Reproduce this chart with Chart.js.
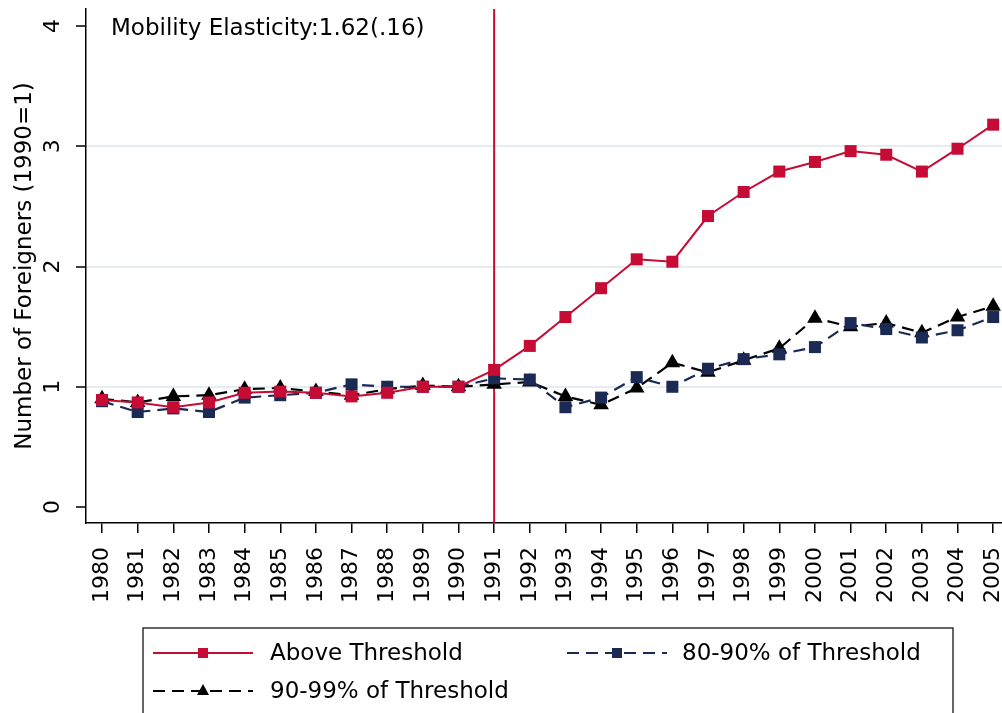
<!DOCTYPE html>
<html>
<head>
<meta charset="utf-8">
<script src="https://cdn.jsdelivr.net/npm/chart.js@4.4.0/dist/chart.umd.min.js"></script>
<style>
body{margin:0;overflow:hidden;background:#fff}
#wrap{width:1002px;height:713px;overflow:hidden}
</style>
</head>
<body>
<div id="wrap"><canvas id="myChart" width="1020" height="713"></canvas></div>
<script>
// DATA
const years = [1980,1981,1982,1983,1984,1985,1986,1987,1988,1989,1990,1991,1992,
  1993,1994,1995,1996,1997,1998,1999,2000,2001,2002,2003,2004,2005];
const above = [0.89,0.87,0.83,0.87,0.95,0.96,0.95,0.92,0.95,1.0,1.0,1.14,1.34,
  1.58,1.82,2.06,2.04,2.42,2.62,2.79,2.87,2.96,2.93,2.79,2.98,3.18];
const pct8090 = [0.88,0.79,0.82,0.79,0.91,0.93,0.95,1.02,1.0,1.0,1.0,1.07,1.06,
  0.83,0.91,1.08,1.0,1.15,1.23,1.27,1.33,1.53,1.48,1.41,1.47,1.58];
const pct9099 = [0.9,0.87,0.92,0.93,0.98,0.99,0.96,0.93,0.98,1.01,1.0,1.02,1.04,
  0.92,0.85,0.99,1.2,1.12,1.22,1.32,1.57,1.5,1.53,1.45,1.58,1.67];
const yTicks = [0,1,2,3,4];
const gridAt = [1,2,3];
const reformYear = 1991;
const seriesNames = ['Above Threshold','80-90% of Threshold','90-99% of Threshold'];
const note = 'Mobility Elasticity:1.62(.16)';
const yTitle = 'Number of Foreigners (1990=1)';

const RED = '#c60b35', NAVY = '#1b2a55', BLACK = '#000';
Chart.defaults.font.family = '"DejaVu Sans", sans-serif';
Chart.defaults.color = '#000';

function pts(vals){ return years.map((x,i) => ({x: x, y: vals[i]})); }

//SETUP
const data = {
  datasets: [{
    label: seriesNames[0], data: pts(above),
    borderColor: RED, backgroundColor: RED, borderWidth: 2,
    pointStyle: 'rect', pointRadius: 8.5, pointBorderWidth: 0,
    pointBackgroundColor: RED
  },{
    label: seriesNames[1], data: pts(pct8090),
    borderColor: NAVY, backgroundColor: NAVY, borderWidth: 2.2, borderDash: [12,7],
    pointStyle: 'rect', pointRadius: 8.5, pointBorderWidth: 0,
    pointBackgroundColor: NAVY
  },{
    label: seriesNames[2], data: pts(pct9099),
    borderColor: BLACK, backgroundColor: BLACK, borderWidth: 2.2, borderDash: [12,7],
    pointStyle: 'triangle', pointRadius: 9, pointBorderWidth: 0,
    pointBackgroundColor: BLACK
  }]
};

// red reform line, note, rotated y labels, legend
const extras = {
  id: 'extras',
  beforeDatasetsDraw(chart){
    const c = chart.ctx, a = chart.chartArea;
    const x = chart.scales.x.getPixelForValue(reformYear);
    c.save();
    c.strokeStyle = RED; c.lineWidth = 2;
    c.beginPath(); c.moveTo(x, a.top); c.lineTo(x, a.bottom); c.stroke();
    c.restore();
  },
  afterDraw(chart){
    const c = chart.ctx, ys = chart.scales.y, a = chart.chartArea;
    c.save();
    c.fillStyle = '#000';
    c.font = '23px "DejaVu Sans"';
    c.textBaseline = 'alphabetic'; c.textAlign = 'left';
    c.fillText(note, 111, 35);

    // y tick labels + title, rotated
    c.textAlign = 'center'; c.textBaseline = 'middle';
    c.font = '22px "DejaVu Sans"';
    yTicks.forEach(v => {
      c.save(); c.translate(53, ys.getPixelForValue(v)); c.rotate(-Math.PI/2);
      c.fillText(String(v), 0, 0); c.restore();
    });
    c.font = '23px "DejaVu Sans"';
    c.save(); c.translate(25, (a.top + a.bottom)/2); c.rotate(-Math.PI/2);
    c.fillText(yTitle, 0, 0); c.restore();

    // legend
    c.strokeStyle = '#333'; c.lineWidth = 1.5; c.setLineDash([]);
    c.strokeRect(143, 628, 810, 100);
    const items = [
      {i:0, x:153, y:653, tx:270}, {i:1, x:567, y:653, tx:682}, {i:2, x:153, y:691, tx:270}
    ];
    items.forEach(it => {
      const ds = data.datasets[it.i];
      c.strokeStyle = ds.borderColor; c.lineWidth = 2;
      c.setLineDash(ds.borderDash || []);
      c.beginPath(); c.moveTo(it.x, it.y); c.lineTo(it.x + 100, it.y); c.stroke();
      c.setLineDash([]);
      c.fillStyle = ds.borderColor;
      const mx = it.x + 50;
      if (ds.pointStyle === 'rect') {
        c.fillRect(mx - 5, it.y - 5, 10, 10);
      } else {
        c.beginPath(); c.moveTo(mx, it.y - 7); c.lineTo(mx + 6, it.y + 4);
        c.lineTo(mx - 6, it.y + 4); c.closePath(); c.fill();
      }
      c.fillStyle = '#000'; c.font = '23px "DejaVu Sans"';
      c.textAlign = 'left'; c.textBaseline = 'middle';
      c.fillText(ds.label, it.tx, it.y + 1);
    });
    c.restore();
  }
};

//CONFIG
const config = {
  type: 'line',
  data,
  options: {
    responsive: false,
    animation: false,
    devicePixelRatio: 1,
    layout: { padding: { top: 9, right: 0, bottom: 110, left: 0 } },
    plugins: { legend: { display: false }, tooltip: { enabled: false } },
    elements: { line: { tension: 0 } },
    scales: {
      x: {
        type: 'linear', min: 1979.55, max: 2005.5,
        afterBuildTicks: s => { s.ticks = years.map(v => ({value: v})); },
        afterFit: s => { s.height = 80; s.paddingLeft = 0; s.paddingRight = 0; },
        ticks: {
          minRotation: 90, maxRotation: 90, autoSkip: false, padding: 14,
          font: { size: 22 }, color: '#000',
          callback: v => String(v)
        },
        grid: { drawOnChartArea: false, drawTicks: true, tickLength: 10,
          tickColor: '#000', lineWidth: 1.5 },
        border: { color: '#000', width: 1.5 }
      },
      y: {
        min: -0.133, max: 4.142,
        afterBuildTicks: s => { s.ticks = yTicks.map(v => ({value: v})); },
        afterFit: s => { s.width = 86; s.paddingTop = 0; s.paddingBottom = 0; },
        ticks: { display: false },
        grid: {
          color: ctx => (ctx.tick && gridAt.includes(ctx.tick.value)) ? '#e6edf0' : 'rgba(0,0,0,0)',
          lineWidth: 2, drawTicks: true, tickLength: 10, tickColor: '#000', tickWidth: 1.5
        },
        border: { color: '#000', width: 1.5 }
      }
    }
  },
  plugins: [extras]
};

//RENDER
let myChart = new Chart(document.getElementById('myChart'), config);
</script>
</body>
</html>
